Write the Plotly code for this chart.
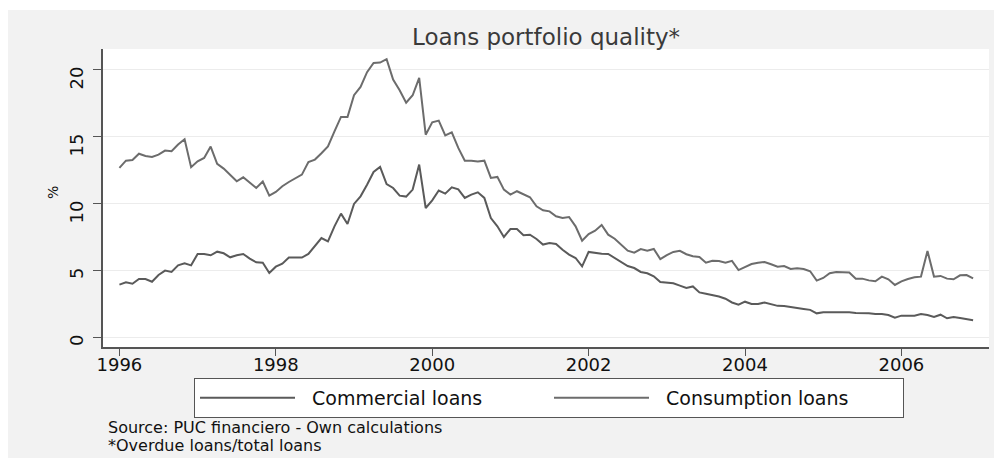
import plotly.graph_objects as go

# ---- data (monthly, Jan 1996 - Dec 2006) ----
start_year = 1996
n_months = 132
commercial = [
    3.93, 4.10, 4.00, 4.35, 4.35, 4.15, 4.65, 4.98, 4.88, 5.37, 5.52, 5.37,
    6.22, 6.22, 6.12, 6.39, 6.27, 5.97, 6.12, 6.22, 5.87, 5.60, 5.57, 4.80,
    5.27, 5.50, 5.95, 5.95, 5.95, 6.22, 6.84, 7.41, 7.16, 8.28, 9.23, 8.46,
    9.95, 10.52, 11.39, 12.34, 12.71, 11.44, 11.14, 10.57, 10.50, 11.02, 12.89, 9.65,
    10.22, 10.95, 10.72, 11.19, 11.04, 10.40, 10.65, 10.82, 10.40, 8.90, 8.28, 7.49,
    8.08, 8.08, 7.61, 7.66, 7.34, 6.92, 7.04, 6.97, 6.54, 6.17, 5.92, 5.30,
    6.37, 6.29, 6.24, 6.22, 5.92, 5.62, 5.32, 5.17, 4.88, 4.78, 4.55, 4.13,
    4.08, 4.03, 3.86, 3.68, 3.80, 3.35, 3.26, 3.18, 3.05, 2.88, 2.60, 2.43,
    2.66, 2.49, 2.49, 2.60, 2.47, 2.35, 2.34, 2.25, 2.17, 2.12, 2.05, 1.79,
    1.87, 1.88, 1.88, 1.87, 1.87, 1.82, 1.82, 1.80, 1.74, 1.74, 1.67, 1.47,
    1.62, 1.62, 1.62, 1.74, 1.67, 1.52, 1.69, 1.42, 1.52, 1.44, 1.37, 1.27,
]
consumption = [
    12.64, 13.18, 13.23, 13.70, 13.53, 13.46, 13.63, 13.93, 13.88, 14.38, 14.78, 12.69,
    13.13, 13.38, 14.23, 12.94, 12.59, 12.09, 11.64, 11.94, 11.52, 11.14, 11.62, 10.57,
    10.85, 11.27, 11.59, 11.89, 12.14, 13.08, 13.26, 13.73, 14.25, 15.37, 16.44, 16.44,
    18.06, 18.68, 19.78, 20.47, 20.50, 20.75, 19.23, 18.43, 17.50, 18.06, 19.35, 15.12,
    16.04, 16.17, 15.07, 15.30, 14.13, 13.18, 13.18, 13.11, 13.18, 11.89, 11.97, 11.02,
    10.65, 10.90, 10.65, 10.45, 9.78, 9.48, 9.40, 9.03, 8.90, 8.98, 8.28, 7.21,
    7.71, 7.96, 8.38, 7.66, 7.36, 6.92, 6.47, 6.32, 6.59, 6.47, 6.59, 5.84,
    6.14, 6.37, 6.45, 6.20, 6.05, 6.00, 5.57, 5.72, 5.70, 5.57, 5.71, 5.02,
    5.25, 5.47, 5.57, 5.62, 5.45, 5.27, 5.32, 5.10, 5.15, 5.10, 4.93, 4.23,
    4.43, 4.78, 4.88, 4.83, 4.83, 4.38, 4.38, 4.25, 4.18, 4.53, 4.33, 3.91,
    4.18, 4.35, 4.48, 4.53, 6.44, 4.53, 4.58, 4.38, 4.33, 4.63, 4.65, 4.40,
]
series_names = ["Commercial loans", "Consumption loans"]
x_ticks = [1996, 1998, 2000, 2002, 2004, 2006]
y_ticks = [0, 5, 10, 15, 20]
title_text = "Loans portfolio quality*"
note_lines = ["Source: PUC financiero - Own calculations", "*Overdue loans/total loans"]

months = [start_year + m / 12 for m in range(n_months)]

FONT = "DejaVu Sans"
# the page body has an 8px margin; work in page pixels and convert
OFF = 8
W, H = 1002 - OFF, 458 - OFF
L, R, T, B = 103 - OFF, 989 - OFF, 49 - OFF, 347 - OFF

fig = go.Figure()
fig.add_trace(go.Scatter(x=months, y=commercial, mode="lines",
                         name="\u00a0\u00a0" + series_names[0],
                         line=dict(color="#5a5a5a", width=2)))
fig.add_trace(go.Scatter(x=months, y=consumption, mode="lines",
                         name="\u00a0\u00a0" + series_names[1],
                         line=dict(color="#6c6c6c", width=2)))

def px_x(px):  # page pixel -> paper x
    return (px - OFF - L) / (R - L)

def px_y(py):  # page pixel -> paper y
    return (B - (py - OFF)) / (B - T)

annotations = [
    dict(text=title_text, xref="paper", yref="paper", x=0.5, y=px_y(37),
         xanchor="center", yanchor="middle", showarrow=False,
         font=dict(size=23, family=FONT, color="#3a3a3a")),
    dict(text="%", xref="paper", yref="paper", x=px_x(53), y=px_y(193),
         xanchor="center", yanchor="middle", showarrow=False, textangle=-90,
         font=dict(size=14, family=FONT, color="#111111")),
]
for k, line in enumerate(note_lines):
    annotations.append(dict(text=line, xref="paper", yref="paper", x=px_x(107), y=px_y(427 + 18 * k),
                            xanchor="left", yanchor="middle", align="left", showarrow=False,
                            borderpad=0,
                            font=dict(size=16, family=FONT, color="#111111")))

fig.update_layout(
    width=W, height=H,
    margin=dict(l=L, r=W - R, t=T, b=H - B, autoexpand=False),
    paper_bgcolor="white",
    plot_bgcolor="white",
    font=dict(family=FONT, color="#111111"),
    shapes=[
        dict(type="rect", xref="paper", yref="paper", layer="below",
             x0=px_x(8), x1=px_x(995), y0=px_y(458), y1=px_y(10),
             fillcolor="#f2f2f2", line=dict(width=0)),
        dict(type="rect", xref="paper", yref="paper", layer="below",
             x0=0, x1=1, y0=0, y1=1, fillcolor="white", line=dict(width=0)),
    ],
    xaxis=dict(range=[1995.79, 2007.12], tickvals=x_ticks, ticktext=[str(v) for v in x_ticks],
               automargin=False,
               showgrid=False, zeroline=False, showline=True, linecolor="#555555", linewidth=1.5,
               ticks="outside", ticklen=7, tickcolor="#555555", tickwidth=1.2,
               ticklabelstandoff=-6,
               tickfont=dict(size=18, family=FONT, color="#111111")),
    yaxis=dict(range=[-0.72, 21.51], tickvals=y_ticks, ticktext=[str(v) for v in y_ticks],
               automargin=False,
               showgrid=True, gridcolor="#ececec", gridwidth=1.2, zeroline=False,
               showline=True, linecolor="#555555", linewidth=1.5,
               ticks="outside", ticklen=8, tickcolor="#555555", tickwidth=1.2,
               ticklabelstandoff=16,
               tickangle=-89.99, tickfont=dict(size=18, family=FONT, color="#111111")),
    legend=dict(orientation="h", x=px_x(194), y=px_y(378), xanchor="left", yanchor="top",
                bgcolor="white", bordercolor="#555555", borderwidth=1,
                font=dict(size=19, family=FONT, color="#111111"),
                itemwidth=95, entrywidth=244, entrywidthmode="pixels",
                tracegroupgap=0),
    annotations=annotations,
)

fig.write_html("out.html")
